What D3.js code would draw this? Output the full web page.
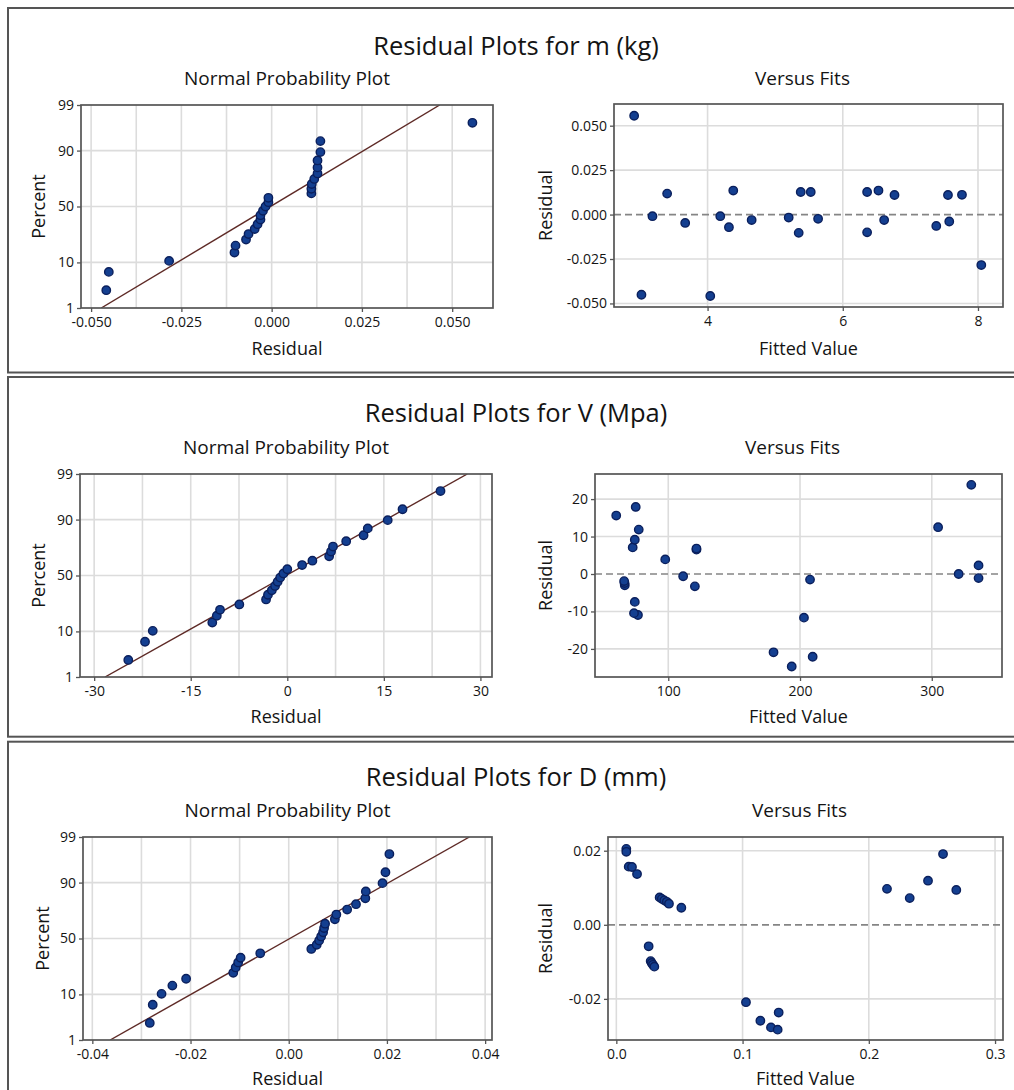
<!DOCTYPE html>
<html>
<head>
<meta charset="utf-8">
<script src="https://cdn.jsdelivr.net/npm/d3@7"></script>
<style>
  body { margin: 0; background: #fff; }
  text { font-family: "Open Sans", "Noto Sans", sans-serif; fill: #141414; }
</style>
</head>
<body>
<svg id="chart" width="1014" height="1090"></svg>
<script>
// ---- data ----
const mFitted = [2.914, 3.022, 3.185, 3.402, 3.669, 4.040, 4.188, 4.316, 4.380, 4.652, 5.200, 5.348, 5.378,
  5.526, 5.635, 6.360, 6.360, 6.528, 6.612, 6.765, 7.383, 7.556, 7.575, 7.763, 8.049];
const mResidual = [0.0556, -0.0451, -0.0009, 0.0118, -0.0047, -0.0458, -0.0009, -0.0071, 0.0135, -0.0031,
  -0.0017, -0.0103, 0.0127, 0.0127, -0.0024, 0.0127, -0.0100, 0.0135, -0.0031, 0.0110, -0.0064, 0.0110,
  -0.0039, 0.0111, -0.0284];

const vFitted = [193.7, 209.6, 179.9, 203.0, 77.0, 74.0, 74.6, 120.2, 67.0, 66.8, 66.5, 207.6, 335.5,
  111.3, 320.4, 335.5, 97.7, 121.4, 121.4, 73.0, 74.6, 77.6, 304.8, 60.5, 75.3, 330.0];
const vResidual = [-24.7, -22.1, -20.9, -11.65, -10.95, -10.45, -7.45, -3.3, -3.0, -2.4, -1.9, -1.5, -1.1,
  -0.6, 0.0, 2.3, 3.9, 6.5, 6.8, 7.1, 9.15, 11.85, 12.5, 15.6, 17.9, 23.8];

const dFitted = [0.0079, 0.0079, 0.0098, 0.0124, 0.0164, 0.0343, 0.0360, 0.0380, 0.0400, 0.0417, 0.0515,
  0.0256, 0.0272, 0.0280, 0.0290, 0.0301, 0.1027, 0.1141, 0.1225, 0.1278, 0.1286, 0.2144, 0.2324, 0.2469,
  0.2588, 0.2693];
const dResidual = [0.0205, 0.0197, 0.0157, 0.0156, 0.0137, 0.0074, 0.0070, 0.0066, 0.0062, 0.0057, 0.0046,
  -0.0058, -0.0098, -0.0103, -0.0108, -0.0113, -0.0209, -0.0259, -0.0277, -0.0283, -0.0237, 0.0097, 0.0072,
  0.0119, 0.0191, 0.0094];

const percentTicks = [1, 10, 50, 90, 99];
const mNormTicks = [-0.05, -0.025, 0, 0.025, 0.05];
const vNormTicks = [-30, -15, 0, 15, 30];
const dNormTicks = [-0.04, -0.02, 0, 0.02, 0.04];
const mFitTicks = [4, 6, 8];
const vFitTicks = [100, 200, 300];
const dFitTicks = [0, 0.1, 0.2, 0.3];
const mResTicks = [-0.05, -0.025, 0, 0.025, 0.05];
const vResTicks = [-20, -10, 0, 10, 20];
const dResTicks = [-0.02, 0, 0.02];

const loc = d3.formatLocale({ decimal: ".", thousands: ",", grouping: [3], currency: ["", ""], minus: "-" });

const svg = d3.select("#chart");
svg.append("rect").attr("width", 1014).attr("height", 1090).attr("fill", "#fff");

// inverse normal cdf (Acklam)
function probit(p) {
  const a = [-39.69683028665376, 220.9460984245205, -275.9285104469687, 138.3577518672690, -30.66479806614716, 2.506628277459239];
  const b = [-54.47609879822406, 161.5858368580409, -155.6989798598866, 66.80131188771972, -13.28068155288572];
  const c = [-0.007784894002430293, -0.3223964580411365, -2.400758277161838, -2.549732539343734, 4.374664141464968, 2.938163982698783];
  const d = [0.007784695709041462, 0.3224671290700398, 2.445134137142996, 3.754408661907416];
  const plow = 0.02425;
  let q, r;
  if (p < plow) {
    q = Math.sqrt(-2 * Math.log(p));
    return (((((c[0] * q + c[1]) * q + c[2]) * q + c[3]) * q + c[4]) * q + c[5]) /
      ((((d[0] * q + d[1]) * q + d[2]) * q + d[3]) * q + 1);
  }
  if (p > 1 - plow) {
    q = Math.sqrt(-2 * Math.log(1 - p));
    return -(((((c[0] * q + c[1]) * q + c[2]) * q + c[3]) * q + c[4]) * q + c[5]) /
      ((((d[0] * q + d[1]) * q + d[2]) * q + d[3]) * q + 1);
  }
  q = p - 0.5;
  r = q * q;
  return (((((a[0] * r + a[1]) * r + a[2]) * r + a[3]) * r + a[4]) * r + a[5]) * q /
    (((((b[0] * r + b[1]) * r + b[2]) * r + b[3]) * r + b[4]) * r + 1);
}

let clipId = 0;

function frame(g, box) {
  g.append("rect")
    .attr("x", box.x0).attr("y", box.y0)
    .attr("width", box.x1 - box.x0).attr("height", box.y1 - box.y0)
    .attr("fill", "none").attr("stroke", "#555").attr("stroke-width", 1.7);
}

function gridLines(g, box, xs, ys, x, y) {
  g.append("g").selectAll("line.v").data(xs).join("line")
    .attr("x1", d => x(d)).attr("x2", d => x(d))
    .attr("y1", box.y0).attr("y2", box.y1)
    .attr("stroke", "#dcdcdc").attr("stroke-width", 1.6);
  g.append("g").selectAll("line.h").data(ys).join("line")
    .attr("x1", box.x0).attr("x2", box.x1)
    .attr("y1", d => y(d)).attr("y2", d => y(d))
    .attr("stroke", "#dcdcdc").attr("stroke-width", 1.6);
}

function styleAxis(a) {
  a.select(".domain").remove();
  a.selectAll(".tick line").attr("stroke", "#555").attr("stroke-width", 1.3);
  a.selectAll(".tick text").style("font-family", '"Open Sans", sans-serif')
    .style("font-size", "14px").attr("fill", "#141414");
}

function dots(g, data, x, y) {
  g.append("g").selectAll("circle").data(data).join("circle")
    .attr("cx", d => x(d[0])).attr("cy", d => y(d[1]))
    .attr("r", 4.2)
    .attr("fill", "#143f90").attr("stroke", "#0a1f5c").attr("stroke-width", 1.4);
}

function normalPlot(g, box, residuals, xDomain, xTicks, gridStep, fmt) {
  const x = d3.scaleLinear().domain(xDomain).range([box.x0, box.x1]);
  const y = d3.scaleLinear().domain([probit(0.01), probit(0.99)]).range([box.y1, box.y0]);
  const n = residuals.length;
  const sorted = residuals.slice().sort(d3.ascending);
  const pts = sorted.map((r, i) => [r, probit((i + 1 - 0.3) / (n + 0.4))]);
  const grid = d3.range(xTicks[0], xTicks[xTicks.length - 1] + gridStep / 2, gridStep);
  gridLines(g, box, grid, [10, 50, 90].map(p => probit(p / 100)), x, y);

  // fitted normal line
  const mean = d3.mean(residuals), sd = d3.deviation(residuals);
  const id = "clip" + (clipId++);
  g.append("clipPath").attr("id", id).append("rect")
    .attr("x", box.x0).attr("y", box.y0).attr("width", box.x1 - box.x0).attr("height", box.y1 - box.y0);
  const zs = [probit(0.01), probit(0.99)];
  g.append("line")
    .attr("clip-path", `url(#${id})`)
    .attr("x1", x(mean + zs[0] * sd)).attr("y1", y(zs[0]))
    .attr("x2", x(mean + zs[1] * sd)).attr("y2", y(zs[1]))
    .attr("stroke", "#5e2a26").attr("stroke-width", 1.4);

  frame(g, box);
  g.append("g").attr("transform", `translate(0,${box.y1})`)
    .call(d3.axisBottom(x).tickValues(xTicks).tickFormat(loc.format(fmt)).tickSize(4).tickPadding(5))
    .call(styleAxis);
  g.append("g").attr("transform", `translate(${box.x0},0)`)
    .call(d3.axisLeft(y).tickValues(percentTicks.map(p => probit(p / 100)))
      .tickFormat((d, i) => percentTicks[i]).tickSize(4).tickPadding(3))
    .call(styleAxis);
  dots(g, pts, x, y);
}

function fitsPlot(g, box, fitted, residuals, xDomain, yDomain, xTicks, yTicks, xFmt, yFmt) {
  const x = d3.scaleLinear().domain(xDomain).range([box.x0, box.x1]);
  const y = d3.scaleLinear().domain(yDomain).range([box.y1, box.y0]);
  gridLines(g, box, xTicks, yTicks.filter(t => t !== 0), x, y);
  g.append("line")
    .attr("x1", box.x0).attr("x2", box.x1).attr("y1", y(0)).attr("y2", y(0))
    .attr("stroke", "#858585").attr("stroke-width", 1.7).attr("stroke-dasharray", "7,4");
  frame(g, box);
  g.append("g").attr("transform", `translate(0,${box.y1})`)
    .call(d3.axisBottom(x).tickValues(xTicks).tickFormat(loc.format(xFmt)).tickSize(4).tickPadding(5))
    .call(styleAxis);
  g.append("g").attr("transform", `translate(${box.x0},0)`)
    .call(d3.axisLeft(y).tickValues(yTicks).tickFormat(loc.format(yFmt)).tickSize(4).tickPadding(3))
    .call(styleAxis);
  dots(g, fitted.map((f, i) => [f, residuals[i]]), x, y);
}

function labels(g, p) {
  g.append("text").attr("x", 516).attr("y", p.titleY).attr("text-anchor", "middle")
    .attr("dominant-baseline", "central").style("font-size", "25.5px").text(p.title);
  const nc = (p.norm.x0 + p.norm.x1) / 2, fc = (p.fits.x0 + p.fits.x1) / 2;
  g.append("text").attr("x", nc).attr("y", p.subY).attr("text-anchor", "middle")
    .attr("dominant-baseline", "central").style("font-size", "19px").text("Normal Probability Plot");
  g.append("text").attr("x", fc - 6).attr("y", p.subY).attr("text-anchor", "middle")
    .attr("dominant-baseline", "central").style("font-size", "19px").text("Versus Fits");
  g.append("text").attr("x", nc).attr("y", p.labY).attr("text-anchor", "middle")
    .attr("dominant-baseline", "central").style("font-size", "18px").text("Residual");
  g.append("text").attr("x", fc).attr("y", p.labY).attr("text-anchor", "middle")
    .attr("dominant-baseline", "central").style("font-size", "18px").text("Fitted Value");
  const ny = (p.norm.y0 + p.norm.y1) / 2, fy = (p.fits.y0 + p.fits.y1) / 2;
  g.append("text").attr("transform", `translate(${p.percentX},${ny}) rotate(-90)`)
    .attr("text-anchor", "middle").attr("dominant-baseline", "central")
    .style("font-size", "18px").text("Percent");
  g.append("text").attr("transform", `translate(545,${fy}) rotate(-90)`)
    .attr("text-anchor", "middle").attr("dominant-baseline", "central")
    .style("font-size", "18px").text("Residual");
}

const panels = [
  { title: "Residual Plots for m (kg)", top: 8, bottom: 372.5, titleY: 45, subY: 78, labY: 348, percentX: 38,
    norm: { x0: 81, x1: 493, y0: 105, y1: 308 }, fits: { x0: 614, x1: 1003, y0: 104, y1: 307 } },
  { title: "Residual Plots for V (Mpa)", top: 377, bottom: 736.7, titleY: 412, subY: 447, labY: 716, percentX: 38,
    norm: { x0: 80, x1: 492, y0: 474, y1: 677 }, fits: { x0: 595, x1: 1002, y0: 474, y1: 677 } },
  { title: "Residual Plots for D (mm)", top: 741.7, bottom: 1100, titleY: 776, subY: 810, labY: 1078, percentX: 42,
    norm: { x0: 83, x1: 492, y0: 837, y1: 1040 }, fits: { x0: 608, x1: 1003, y0: 837, y1: 1040 } }
];

panels.forEach((p, i) => {
  const g = svg.append("g");
  g.append("rect").attr("x", 8).attr("y", p.top).attr("width", 1020).attr("height", p.bottom - p.top)
    .attr("fill", "none").attr("stroke", "#555").attr("stroke-width", 2);
  labels(g, p);
  if (i === 0) {
    normalPlot(g, p.norm, mResidual, [-0.0528, 0.0613], mNormTicks, 0.0125, ".3f");
    fitsPlot(g, p.fits, mFitted, mResidual, [2.616, 8.37], [-0.052, 0.0622], mFitTicks, mResTicks, "d", ".3f");
  } else if (i === 1) {
    normalPlot(g, p.norm, vResidual, [-32.2, 31.8], vNormTicks, 7.5, "d");
    fitsPlot(g, p.fits, vFitted, vResidual, [44.4, 353.3], [-27.5, 26.7], vFitTicks, vResTicks, "d", "d");
  } else {
    normalPlot(g, p.norm, dResidual, [-0.0419, 0.0414], dNormTicks, 0.01, ".2f");
    fitsPlot(g, p.fits, dFitted, dResidual, [-0.0066, 0.3063], [-0.0311, 0.0237], dFitTicks, dResTicks, ".1f", ".2f");
  }
});
</script>
</body>
</html>
